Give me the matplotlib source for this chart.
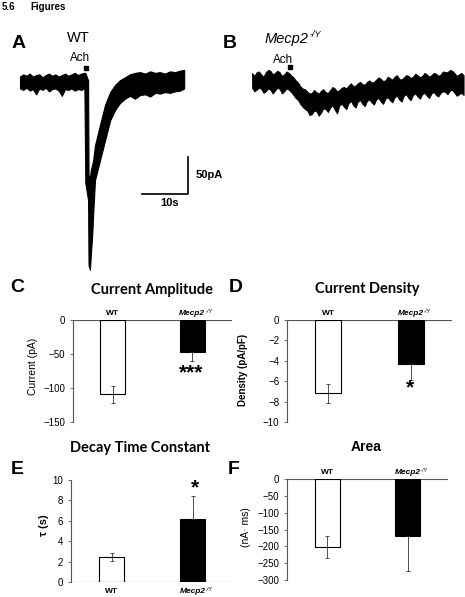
import matplotlib
matplotlib.use("Agg")
import matplotlib.pyplot as plt

plt.rcParams['font.family'] = ['Liberation Sans', 'DejaVu Sans']

# ---------------- data ----------------
# Trace A (WT): time (s), upper and lower edge of the noisy current trace (pA)
a_t = [0, 0.7, 1.4, 2.1, 2.8, 3.5, 4.2, 4.9, 5.6, 6.3, 7.0, 7.7, 8.4, 9.1, 9.8,
       10.5, 11.2, 11.9, 12.6, 13.3, 14.0, 14.2, 14.8, 14.9, 15.2, 15.4, 15.7,
       15.9, 16.3, 17.4, 18.5, 19.6, 20.7, 21.7, 22.8, 23.9, 25.0, 26.1, 27.2,
       28.3, 29.4, 30.4, 31.5, 32.6, 33.7, 34.8, 35.7]
a_hi = [6, 9, 7, 10, 6, 8, 9, 5, 8, 10, 7, 9, 6, 8, 10, 7, 9, 11, 8, 10, 11,
        11, 1, -127, -131, -120, -113, -107, -87, -59, -32, -15, -5, 1, 5, 9,
        11, 12, 10, 13, 11, 12, 10, 13, 12, 14, 15]
a_lo = [-10, -12, -9, -13, -11, -18, -10, -12, -9, -14, -11, -10, -13, -20,
        -11, -12, -10, -13, -11, -12, -10,
        -138, -161, -249, -255, -235, -208, -181, -134, -107, -80, -53, -39,
        -30, -24, -20, -24, -19, -18, -21, -16, -17, -15, -16, -14, -13, -10]
a_ach = (14.35, 17.6)

# Trace B (Mecp2-/Y), sampled every 0.5 s
b_t = [0.5 * i for i in range(93)]
b_hi = [11, 7, 12, 13, 9, 6, 12, 15, 14, 9, 11, 14, 12, 7, 9, 13, 11, 8, 5, 1,
        -2, -7, -10, -11, -14, -17, -16, -12, -15, -17, -13, -11, -15, -16, -12, -8, -10, -14, -12, -9,
        -8, -10, -6, -3, -7, -6, -3, -1, -4, -5, -1, 1, -2, -1, 2, 5, 3, 0, 1, 6,
        4, 2, 6, 8, 3, 2, 5, 8, 7, 4, 6, 10, 8, 5, 7, 11, 9, 6, 8, 11,
        10, 7, 9, 13, 12, 12, 15, 14, 11, 7, 9, 11, 8]
b_lo = [-9, -14, -12, -9, -11, -16, -14, -10, -12, -17, -13, -9, -11, -17, -14, -10, -12, -15, -19, -23,
        -26, -31, -35, -38, -40, -46, -45, -40, -41, -47, -43, -37, -38, -42, -36, -33, -39, -44, -33, -31,
        -35, -38, -30, -27, -33, -36, -28, -26, -31, -34, -27, -25, -29, -32, -25, -23, -28, -31, -24, -22,
        -26, -29, -22, -20, -25, -28, -20, -18, -23, -26, -19, -17, -21, -24, -18, -16, -20, -23, -17, -15,
        -19, -21, -16, -14, -15, -18, -13, -12, -16, -20, -18, -16, -19]
b_ach = (8.3, 18.9)

groups = ['WT', 'Mecp2']
amp_mean = [-109, -47]
amp_err = [12.5, 13]
dens_mean = [-7.2, -4.35]
dens_err = [0.95, 1.5]
tau_mean = [2.45, 6.2]
tau_err = [0.4, 2.2]
area_mean = [-202, -169]
area_err = [33, 104]

# ---------------- layout helpers ----------------
W, H = 465, 597
fig = plt.figure(figsize=(W / 100, H / 100), dpi=100)


def fx(x):
    return x / W


def fy(y):
    return 1 - y / H


def box(x0, y0, x1, y1):
    return [x0 / W, 1 - y1 / H, (x1 - x0) / W, (y1 - y0) / H]


PX_PER_S = 4.6
PX_PER_PA = 0.74


def trace_axes(x0, x1, t0_px, base_px):
    ax = fig.add_axes(box(x0, 30, x1, 290))
    ax.set_xlim(-(t0_px - x0) / PX_PER_S, (x1 - t0_px) / PX_PER_S)
    ax.set_ylim(-(290 - base_px) / PX_PER_PA, (base_px - 30) / PX_PER_PA)
    ax.axis('off')
    return ax


fig.text(fx(2), fy(7), '5.6', fontsize=7, fontweight='bold', va='center')
fig.text(fx(30), fy(7), 'Figures', fontsize=7, fontweight='bold', va='center')

# ---------------- traces ----------------
axA = trace_axes(0, 232, 20, 81)
axA.fill_between(a_t, a_lo, a_hi, facecolor='black', edgecolor='black', lw=0.8)
axA.plot(*a_ach, 's', color='black', ms=3)
axA.plot([26.5, 36.5, 36.5], [-152.7, -152.7, -102.7], color='black', lw=1.2)

axB = trace_axes(232, 465, 252, 81)
axB.fill_between(b_t, b_lo, b_hi, facecolor='black', edgecolor='black', lw=0.6)
axB.plot(*b_ach, 's', color='black', ms=3)

fig.text(fx(19), fy(43), 'A', fontsize=14, fontweight='bold', ha='center', va='center')
fig.text(fx(230), fy(43), 'B', fontsize=14, fontweight='bold', ha='center', va='center')
fig.text(fx(78), fy(38), 'WT', fontsize=10.5, ha='center', va='center')
fig.text(fx(80), fy(58), 'Ach', fontsize=8.4, ha='center', va='center')
fig.text(fx(283), fy(60), 'Ach', fontsize=8.4, ha='center', va='center')
mB = fig.text(fx(265), fy(39), 'Mecp2', fontsize=10.5, style='italic', ha='left', va='center')
fig.add_artist(matplotlib.text.Annotation('-/Y', xy=(1, 1), xycoords=mB, xytext=(0.5, 1.5),
                                          textcoords='offset points', fontsize=6.5,
                                          style='italic', ha='left', va='top'))
fig.text(fx(196), fy(175), '50pA', fontsize=8, fontweight='bold', ha='left', va='center')
fig.text(fx(170), fy(203), '10s', fontsize=8, fontweight='bold', ha='center', va='center')


# ---------------- bar panels ----------------
def mecp2_label(ax, y, dy, va):
    t = ax.annotate('Mecp2', xy=(1, y), xycoords=('data', 'axes fraction'),
                    xytext=(0, dy), textcoords='offset points', ha='center', va=va,
                    fontsize=6, fontweight='bold', style='italic')
    ax.annotate('-/Y', xy=(1, 1), xycoords=t, xytext=(0.3, 1.2),
                textcoords='offset points', ha='left', va='top',
                fontsize=4, style='italic')


def bar_panel(rect, means, errs, ylim, yticks, negative=True):
    ax = fig.add_axes(rect)
    ax.bar([0, 1], means, width=0.31, color=['white', 'black'],
           edgecolor='black', linewidth=0.8, zorder=2)
    # black bar: only the outward half of the error bar is visible
    if negative:
        yerr = [[errs[0], errs[1]], [errs[0], 0]]
    else:
        yerr = [[errs[0], 0], [errs[0], errs[1]]]
    ax.errorbar([0, 1], means, yerr=yerr, fmt='none', ecolor='#333333',
                elinewidth=0.6, capsize=1.5, capthick=0.6, zorder=3)
    ax.set_xlim(-0.5, 1.5)
    ax.set_ylim(ylim)
    ax.set_yticks(yticks)
    ax.set_xticks([])
    for s in ['right', 'top', 'bottom']:
        ax.spines[s].set_visible(False)
    ax.spines['left'].set_color('#555555')
    ax.spines['left'].set_linewidth(0.8)
    ax.axhline(0, color='#555555', lw=0.8, zorder=1)
    ax.tick_params(axis='y', direction='out', length=2.5, width=0.6,
                   color='#555555', labelsize=7, pad=3)
    if negative:
        ax.annotate('WT', xy=(0, 1), xycoords=('data', 'axes fraction'),
                    xytext=(0, 2), textcoords='offset points', ha='center',
                    va='bottom', fontsize=6, fontweight='bold')
        mecp2_label(ax, 1, 2, 'bottom')
    else:
        ax.annotate('WT', xy=(0, 0), xycoords=('data', 'axes fraction'),
                    xytext=(0, -4.5), textcoords='offset points', ha='center',
                    va='top', fontsize=6, fontweight='bold')
        mecp2_label(ax, 0, -4.5, 'top')
    return ax


axC = bar_panel(box(73, 320, 232, 422), amp_mean, amp_err, (-150, 0), [0, -50, -100, -150])
axD = bar_panel(box(287, 320, 452, 422), dens_mean, dens_err, (-10, 0), [0, -2, -4, -6, -8, -10])
axE = bar_panel(box(71, 480, 233, 582), tau_mean, tau_err, (0, 10), [0, 2, 4, 6, 8, 10], negative=False)
axF = bar_panel(box(287, 479, 448, 580), area_mean, area_err, (-300, 0),
                [0, -50, -100, -150, -200, -250, -300])

title_kw = dict(fontsize=10.5, fontweight='bold', family='Lato', ha='center', va='center')
fig.text(fx(152), fy(290), 'Current Amplitude', **title_kw)
fig.text(fx(367), fy(289), 'Current Density', **title_kw)
fig.text(fx(140), fy(448), 'Decay Time Constant', **title_kw)
fig.text(fx(366), fy(447), 'Area', fontsize=10, fontweight='bold', ha='center', va='center')

letter_kw = dict(fontsize=14, fontweight='bold', ha='center', va='center')
fig.text(fx(17), fy(287), 'C', **letter_kw)
fig.text(fx(236), fy(287), 'D', **letter_kw)
fig.text(fx(17), fy(470), 'E', **letter_kw)
fig.text(fx(234), fy(470), 'F', **letter_kw)

fig.text(fx(33), fy(366), 'Current (pA)', fontsize=7.5, rotation=90, ha='center', va='center')
fig.text(fx(243), fy(370), 'Density (pA/pF)', fontsize=7, fontweight='bold', rotation=90, ha='center', va='center')
fig.text(fx(44), fy(525), 'τ (s)', fontsize=8, fontweight='bold', rotation=90, ha='center', va='center')
fig.text(fx(246), fy(527), '(nA· ms)', fontsize=7.5, rotation=90, ha='center', va='center')

star_kw = dict(fontsize=15, fontweight='bold', ha='center', va='center')
fig.text(fx(191), fy(373), '***', **star_kw)
fig.text(fx(410), fy(388), '*', **star_kw)
fig.text(fx(195), fy(488), '*', **star_kw)

fig.savefig('out.png', dpi=100)
